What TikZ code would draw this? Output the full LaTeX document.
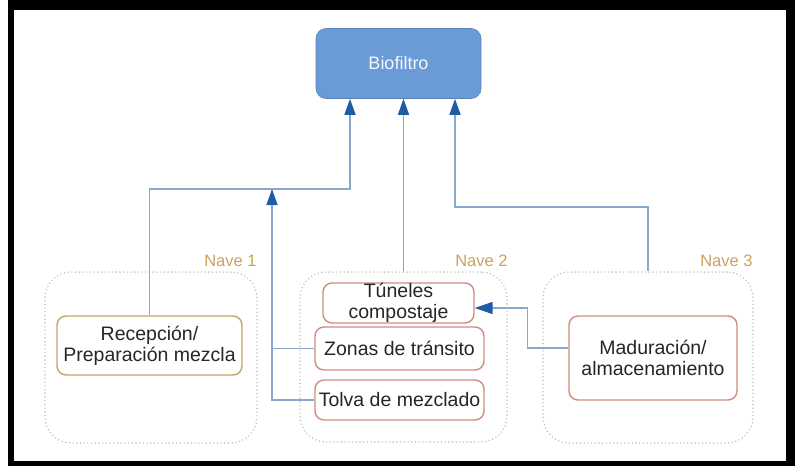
\documentclass[tikz,border=0pt]{standalone}
\usepackage{fontspec}
\setmainfont{Liberation Sans}
\usepackage{xcolor}
\usepackage{tikz}
\usetikzlibrary{arrows.meta}

\definecolor{bioblue}{HTML}{6B9BD6}
\definecolor{linkblue}{HTML}{88A9CC}
\definecolor{tipblue}{HTML}{1F5CA6}
\definecolor{goldline}{HTML}{C6A466}
\definecolor{redline}{HTML}{CF8C80}
\definecolor{navegold}{HTML}{C9A35C}
\definecolor{textgray}{HTML}{262626}

\begin{document}
\begin{tikzpicture}[x=1pt,y=-1pt,
  box/.style={draw,line width=1.4pt,rounded corners=9pt,fill=white,inner sep=0pt,
    align=center,text=textgray,font=\fontsize{19.5}{21}\selectfont},
  goldbox/.style={box,draw=goldline},
  redbox/.style={box,draw=redline},
  nave/.style={draw=gray!55,line width=1.5pt,dash pattern=on 0.1pt off 3.6pt,line cap=round,
    rounded corners=26pt,inner sep=0pt},
  navelbl/.style={text=navegold,font=\fontsize{16.5}{18}\selectfont,inner sep=1pt},
  link/.style={draw=linkblue,line width=1.5pt},
  flow/.style={link,-{Triangle[length=16pt,width=11pt,color=tipblue]}}]
\useasboundingbox (0,0) rectangle (795,466);

% Black frame
\fill[black] (8,0) rectangle (795,10);
\fill[black] (8,0) rectangle (14,466);
\fill[black] (8,461) rectangle (795,466);
\fill[black] (786,0) rectangle (795,466);

% Biofilter
\node[rounded corners=10pt,fill=bioblue,draw=bioblue!85!black,line width=0.6pt,
  minimum width=165pt,minimum height=70pt,text=white!92!bioblue,
  font=\fontsize{18}{20}\selectfont] (bio) at (398.5,63.5) {Biofiltro};

% Naves (dotted containers)
\node[nave,minimum width=212pt,minimum height=171pt] (nave1) at (151,357.5) {};
\node[nave,minimum width=207pt,minimum height=170pt] (nave2) at (403.5,357) {};
\node[nave,minimum width=210pt,minimum height=171pt] (nave3) at (648,357.5) {};
\node[navelbl,anchor=south east] (lbl1) at ([yshift=3pt]nave1.north east) {Nave 1};
\node[navelbl,anchor=south east] (lbl2) at ([xshift=1pt,yshift=3pt]nave2.north east) {Nave 2};
\node[navelbl,anchor=south east] (lbl3) at ([yshift=3pt]nave3.north east) {Nave 3};

% Zones
\node[goldbox,minimum width=185pt,minimum height=59pt] (rec) at (149.5,345.5) {Recepción/\\Preparación mezcla};
\node[redbox,minimum width=151pt,minimum height=40pt] (tun) at (398.5,303) {Túneles\\compostaje};
\node[redbox,minimum width=169pt,minimum height=43pt] (zon) at (399.5,348.5) {Zonas de tránsito};
\node[redbox,minimum width=169pt,minimum height=40pt] (tol) at (399.5,400) {Tolva de mezclado};
\node[redbox,minimum width=168pt,minimum height=84pt] (mad) at (653,358) {Maduración/\\almacenamiento};

% Air ducts to the biofilter
\coordinate (j1) at (350,189);
\coordinate (j2) at (272,189);
\coordinate (j3) at (455,207);
\draw[flow] (rec.north) |- (j1) -- (j1 |- bio.south);
\draw[flow] (nave2.north) -- (nave2.north |- bio.south);
\draw[flow] (nave3.north) |- (j3) -- (j3 |- bio.south);
\draw[flow] (tol.west) -| (j2);
\draw[link] (zon.west) -- (zon.west -| j2);

% Maduracion to tunnels
\draw[link,-{Triangle[length=18pt,width=12pt,color=tipblue]}]
  ([yshift=10pt]mad.west) -- ++(-41,0) |- ([yshift=-5pt]tun.east);
\end{tikzpicture}
\end{document}
